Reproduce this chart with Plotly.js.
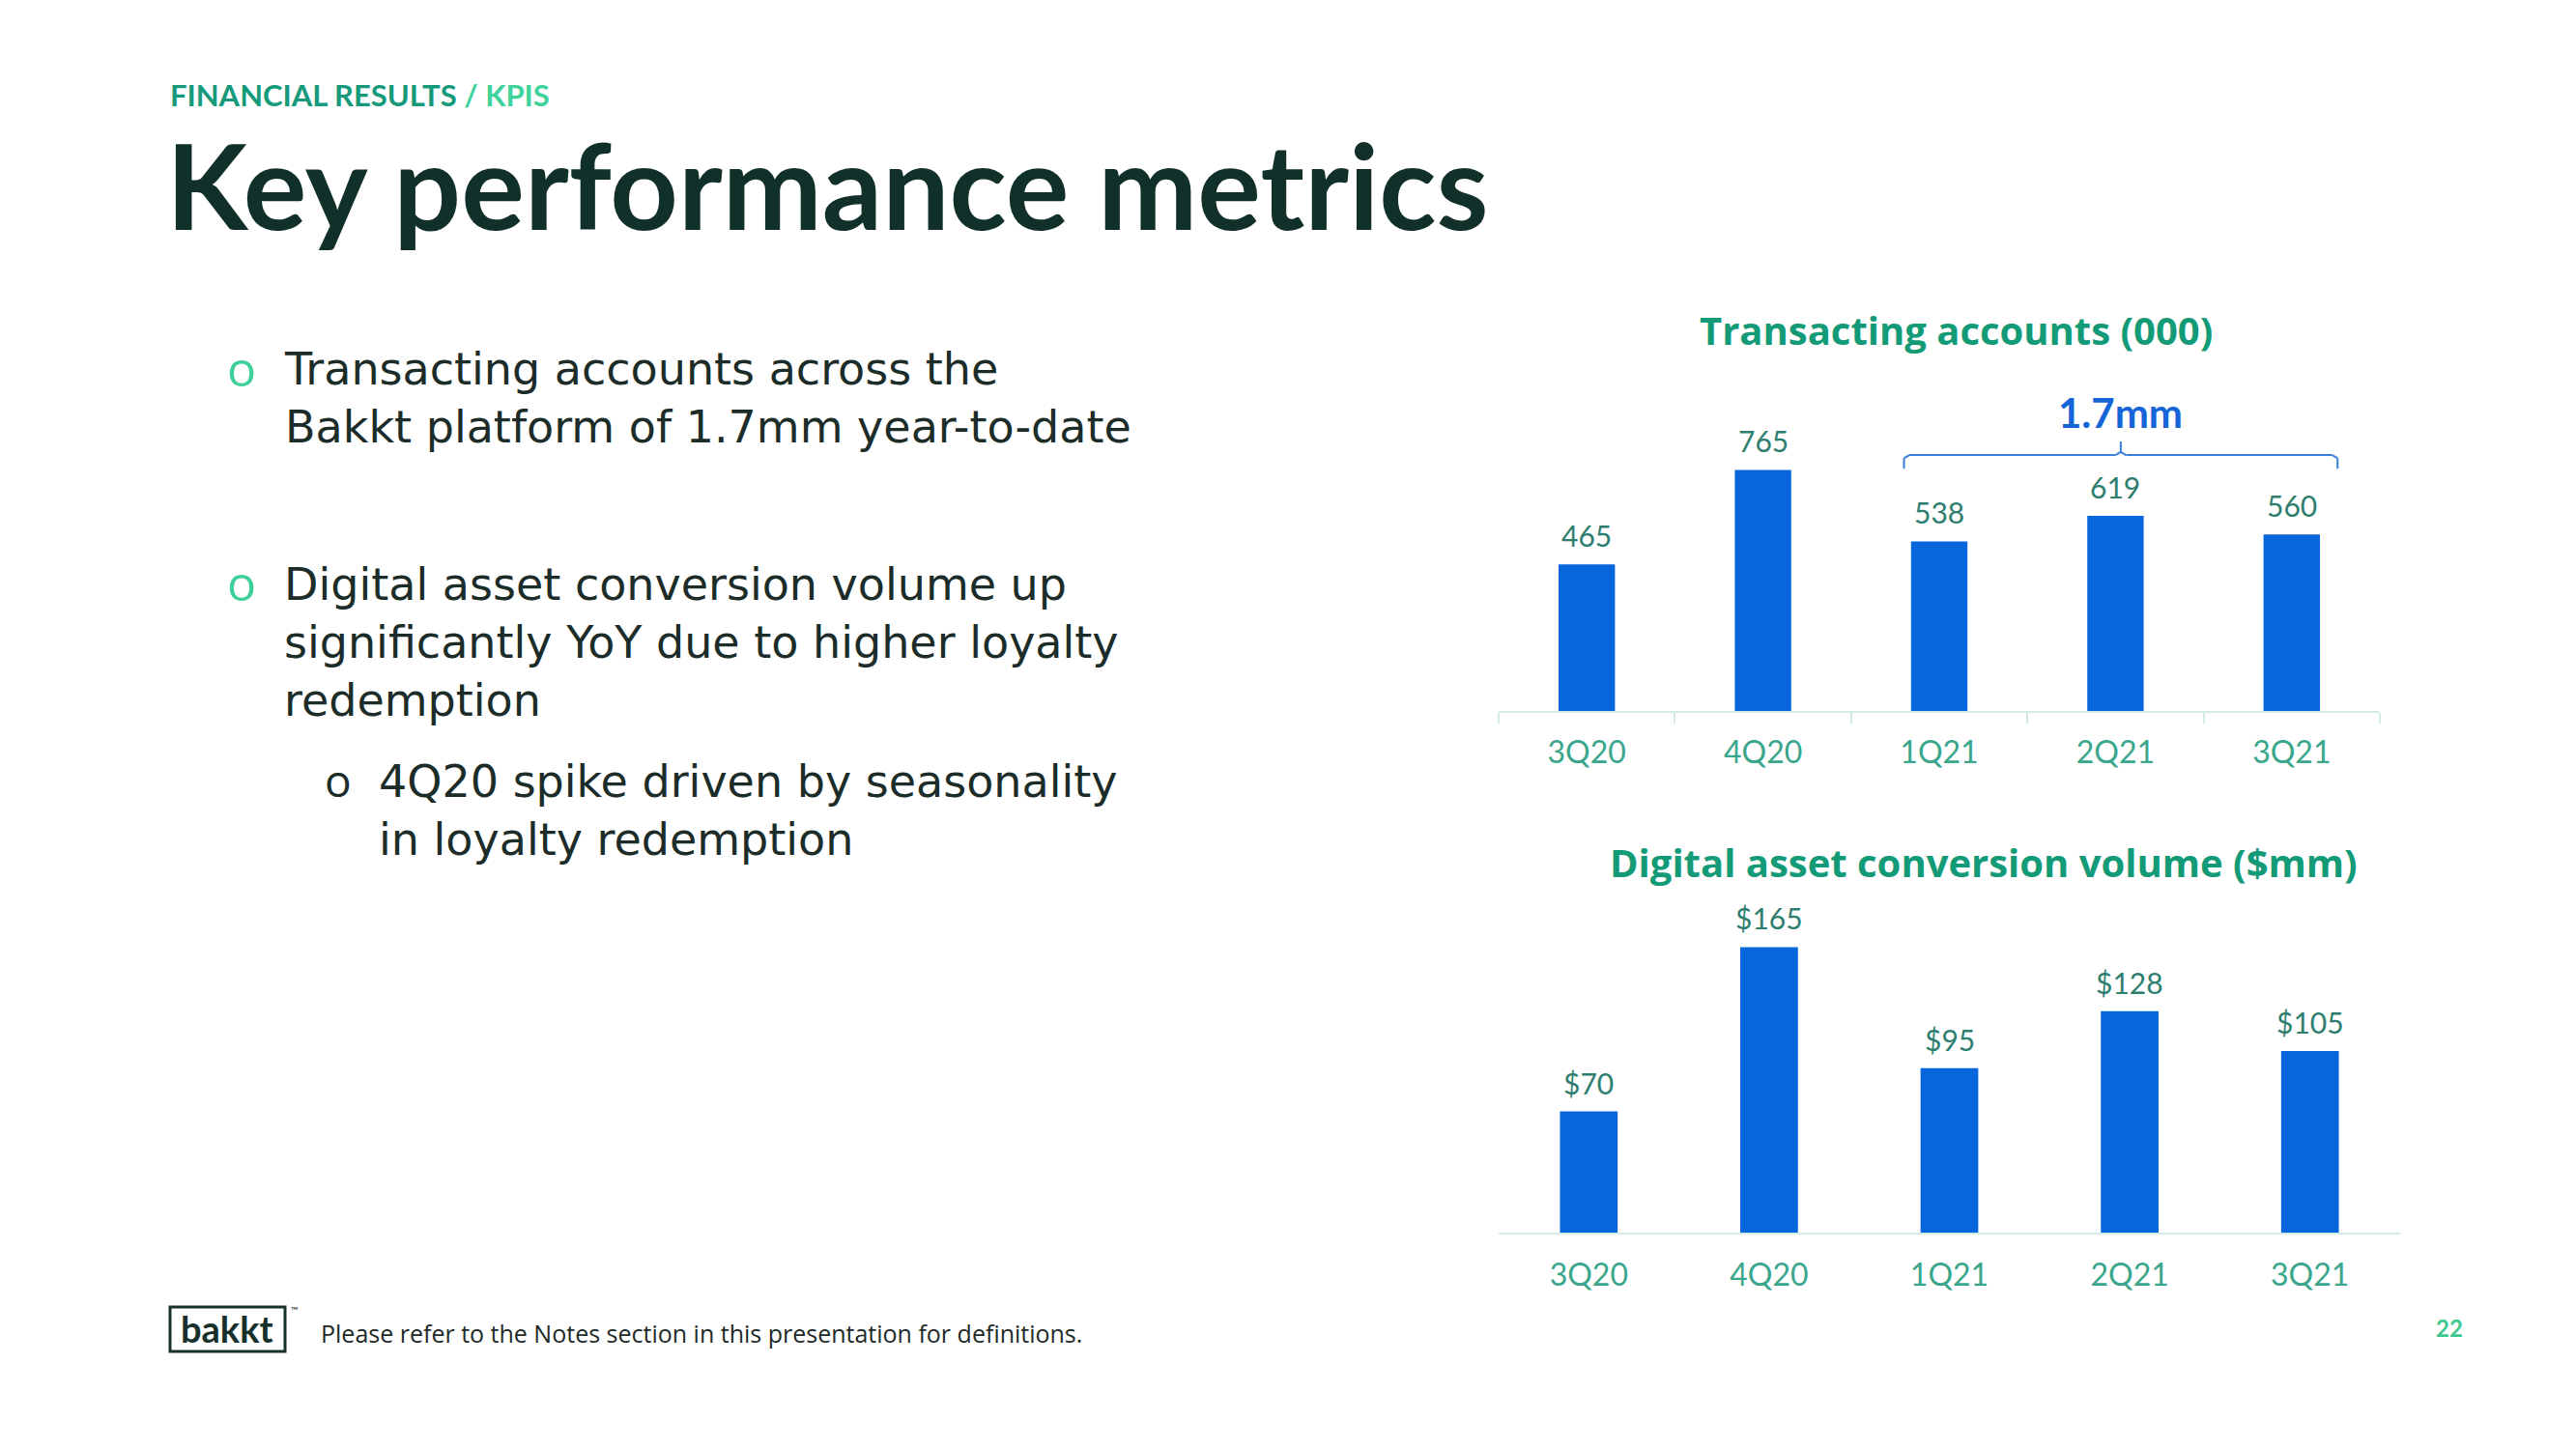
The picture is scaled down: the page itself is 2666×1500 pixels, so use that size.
<!DOCTYPE html>
<html>
<head>
<meta charset="utf-8">
<script src="https://cdn.plot.ly/plotly-3.0.1.min.js"></script>
<style>
html, body { margin: 0; padding: 0; background: #ffffff; }
#chart { width: 2666px; height: 1500px; }
</style>
</head>
<body>
<div id="chart"></div>
<script>
// ---- data ----
const quarters = ['3Q20', '4Q20', '1Q21', '2Q21', '3Q21'];
const transactingAccounts = [465, 765, 538, 619, 560];
const accountLabels = ['465', '765', '538', '619', '560'];
const conversionVolume = [70, 165, 95, 128, 105];
const volumeLabels = ['$70', '$165', '$95', '$128', '$105'];
const ytdQuarters = ['1Q21', '2Q21', '3Q21'];
const ytdTotalLabel = '1.7mm';
const accountsTitle = 'Transacting accounts (000)';
const volumeTitle = 'Digital asset conversion volume ($mm)';

// ---- page geometry helpers ----
const W = 2666, H = 1500;
const px = x => x / W;
const py = y => 1 - y / H;

const BAR = '#0866dd';
const LABEL = '#2e7e6f';
const CAT = '#3aa68b';
const AXIS = '#d3ebe7';
const GREEN = '#139a77';
const DARK = '#11302a';
const FONT = 'Lato, "Open Sans", sans-serif';
const BODY = '"Open Sans", Lato, sans-serif';
const WIDE = '"DejaVu Sans", "Open Sans", sans-serif';

const traces = [
  { type: 'bar', x: quarters, y: transactingAccounts, xaxis: 'x', yaxis: 'y',
    marker: { color: BAR }, hoverinfo: 'skip' },
  { type: 'bar', x: quarters, y: conversionVolume, xaxis: 'x2', yaxis: 'y2',
    marker: { color: BAR }, hoverinfo: 'skip' }
];

const annotations = [];
function note(x, y, text, size, color, opts, family) {
  annotations.push(Object.assign({
    xref: 'paper', yref: 'paper', x: px(x), y: py(y), text: text,
    showarrow: false, xanchor: 'left', yanchor: 'middle', align: 'left',
    font: { family: family || FONT, size: size, color: color }
  }, opts || {}));
}

// value labels above bars
quarters.forEach((q, i) => {
  annotations.push({ xref: 'x', yref: 'y', x: q, y: transactingAccounts[i], text: accountLabels[i],
    showarrow: false, yanchor: 'middle', yshift: 30, font: { family: FONT, size: 30, color: LABEL } });
  annotations.push({ xref: 'x2', yref: 'y2', x: q, y: conversionVolume[i], text: volumeLabels[i],
    showarrow: false, yanchor: 'middle', yshift: 30, font: { family: FONT, size: 30, color: LABEL } });
});

// bracket over year-to-date quarters
const i0 = quarters.indexOf(ytdQuarters[0]);
const i1 = quarters.indexOf(ytdQuarters[ytdQuarters.length - 1]);
const bl = i0 - 0.2, br = i1 + 0.26, bc = (i0 + i1) / 2 + 0.03;
const yTop = 812, yEnd = 769, yPeak = 855;
const BR = '#3b7fd6';
const bline = (x0, y0, x1, y1) => ({ type: 'line', xref: 'x', yref: 'y', x0, y0, x1, y1,
  line: { color: BR, width: 2 } });
const shapes = [
  bline(bl, yEnd, bl, yTop - 10), bline(bl, yTop - 10, bl + 0.03, yTop),
  bline(bl + 0.03, yTop, bc - 0.03, yTop),
  bline(bc - 0.03, yTop, bc, yTop + 10), bline(bc, yTop + 10, bc, yPeak),
  bline(bc, yTop + 10, bc + 0.03, yTop),
  bline(bc + 0.03, yTop, br - 0.03, yTop),
  bline(br - 0.03, yTop, br, yTop - 10), bline(br, yTop - 10, br, yEnd),
  // logo box
  { type: 'rect', xref: 'paper', yref: 'paper', x0: px(176), x1: px(295), y0: py(1399), y1: py(1353),
    line: { color: '#17302b', width: 3 } }
];
annotations.push({ xref: 'x', yref: 'y', x: bc, y: 947, text: '<b>' + ytdTotalLabel + '</b>',
  showarrow: false, yanchor: 'middle', font: { family: FONT, size: 42, color: '#1565d8' } });

// chart titles
note(2024, 342, '<b>' + accountsTitle + '</b>', 40, GREEN, { xanchor: 'center' }, BODY);
note(2053, 892, '<b>' + volumeTitle + '</b>', 40, GREEN, { xanchor: 'center' }, BODY);

// slide header
note(174, 98, '<b>FINANCIAL RESULTS <span style="color:#3fd29b">/ KPIS</span></b>', 31, '#169a7b');
note(170, 190, '<b>Key performance metrics</b>', 123, DARK);

// bullets (each paragraph one wrapped text block)
const BUL = '#3fcf98';
const TXT = '#1b2c29';
const BS = 46;
note(250, 381, 'o', 50, BUL, { xanchor: 'center' }, BODY);
note(292, 412, 'Transacting accounts across the<br>Bakkt platform of 1.7mm year-to-date', BS, TXT, null, WIDE);
note(250, 603, 'o', 50, BUL, { xanchor: 'center' }, BODY);
note(292, 665, 'Digital asset conversion volume up<br>significantly YoY due to higher loyalty<br>redemption', BS, TXT, null, WIDE);
note(350, 807, 'o', 46, TXT, { xanchor: 'center' }, BODY);
note(390, 839, '4Q20 spike driven by seasonality<br>in loyalty redemption', BS, TXT, null, WIDE);

// footer
note(235, 1375, '<b>bakkt</b>', 38, '#17302b', { xanchor: 'center' });
note(299, 1356, '™', 10, '#17302b');
note(330, 1380, 'Please refer to the Notes section in this presentation for definitions.', 25, '#1e2a28', null, BODY);
note(2535, 1374, '<b>22</b>', 24, '#3cc98f', { xanchor: 'center' });

const layout = {
  width: W, height: H,
  margin: { l: 0, r: 0, t: 0, b: 0 },
  paper_bgcolor: '#ffffff', plot_bgcolor: 'rgba(0,0,0,0)',
  showlegend: false, bargap: 0.68,
  font: { family: FONT },
  xaxis: { domain: [px(1551), px(2463)], anchor: 'y', type: 'category',
    showline: true, linecolor: AXIS, linewidth: 2,
    ticks: 'outside', tickson: 'boundaries', ticklen: 11, tickwidth: 2, tickcolor: AXIS,
    tickfont: { family: FONT, size: 32, color: CAT }, ticklabelstandoff: 14,
    showgrid: false, zeroline: false, fixedrange: true },
  yaxis: { domain: [py(736), py(400)], anchor: 'x', range: [0, 1030], visible: false, fixedrange: true },
  xaxis2: { domain: [px(1551), px(2484)], anchor: 'y2', type: 'category',
    showline: true, linecolor: AXIS, linewidth: 2, ticks: '',
    tickfont: { family: FONT, size: 32, color: CAT }, ticklabelstandoff: 15,
    showgrid: false, zeroline: false, fixedrange: true },
  yaxis2: { domain: [py(1276), py(920)], anchor: 'x2', range: [0, 198.7], visible: false, fixedrange: true },
  annotations: annotations,
  shapes: shapes
};

Plotly.newPlot('chart', traces, layout, { staticPlot: true, displayModeBar: false });
</script>
</body>
</html>
